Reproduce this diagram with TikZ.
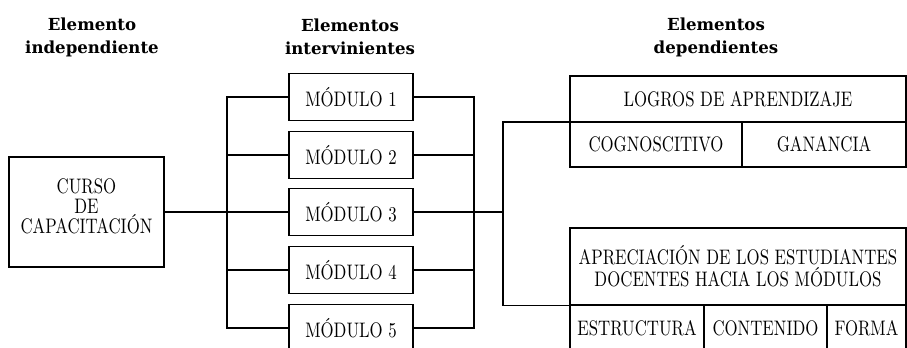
\documentclass[tikz,border=0pt]{standalone}
\usepackage{fontspec}
\newfontfamily\titlefont{DejaVu Serif}
\newfontfamily\bodyfont{Latin Modern Roman}[FakeStretch=0.8]
\begin{document}
\begin{tikzpicture}[x=0.5pt,y=-0.5pt,
  every node/.style={inner sep=0pt,outer sep=0pt},
  box/.style={draw,line width=0.8pt,rectangle,align=center,font=\bodyfont\fontsize{10.5}{10}\selectfont},
  txt/.style={align=center,font=\bodyfont\fontsize{10.5}{10}\selectfont},
  title/.style={align=center,font=\titlefont\bfseries\fontsize{8.3}{11.5}\selectfont},
  conn/.style={line width=0.8pt}]
\useasboundingbox (0,0) rectangle (907,348);
\clip (0,0) rectangle (907,348);
% titles
\node[title] (t1) at (92,37) {Elemento\\independiente};
\node[title] (t2) at (350,37) {Elementos\\intervinientes};
\node[title] (t3) at (716,37) {Elementos\\dependientes};
% left box
\node[box,minimum width=77.5pt,minimum height=55pt] (curso) at (86.5,212) {};
\node[txt] (cursotxt) at (86.5,206) {CURSO\\DE\\CAPACITACI\'ON};
% modules
\foreach \i/\y in {1/97,2/155,3/212,4/270,5/328}{
  \node[box,minimum width=62pt,minimum height=23.5pt] (m\i) at (351,\y) {M\'ODULO \i};
}
% right boxes
\node[box,minimum width=168pt,minimum height=23pt] (logros) at (738,99) {LOGROS DE APRENDIZAJE};
\node[box,minimum width=86pt,minimum height=22.5pt] (cog) at (656,144.5) {COGNOSCITIVO};
\node[box,minimum width=82pt,minimum height=22.5pt] (gan) at (824,144.5) {GANANCIA};
\node[box,minimum width=168pt,minimum height=38.5pt,font=\bodyfont\fontsize{10.5}{11}\selectfont] (apre) at (738,266.5) {APRECIACI\'ON DE LOS ESTUDIANTES\\DOCENTES HACIA LOS M\'ODULOS};
\node[box,minimum width=67pt,minimum height=23pt] (estr) at (637,328.5) {ESTRUCTURA};
\node[box,minimum width=61.5pt,minimum height=23pt] (cont) at (765.5,328.5) {CONTENIDO};
\node[box,minimum width=39.5pt,minimum height=23pt] (forma) at (866.5,328.5) {FORMA};
% bus coordinates
\coordinate (lb) at (227,0);
\coordinate (rb) at (474,0);
\coordinate (db) at (503,0);
% connectors
\draw[conn] (curso.east) -- (m3.west);
\draw[conn] (m1.west) -- (m1.west -| lb) -- (m5.west -| lb) -- (m5.west);
\draw[conn] (m2.west) -- (m2.west -| lb);
\draw[conn] (m4.west) -- (m4.west -| lb);
\draw[conn] (m1.east) -- (m1.east -| rb) -- (m5.east -| rb) -- (m5.east);
\draw[conn] (m2.east) -- (m2.east -| rb);
\draw[conn] (m4.east) -- (m4.east -| rb);
\draw[conn] (m3.east) -- (m3.east -| db);
\draw[conn] (cog.north west) -- (cog.north west -| db) -- (estr.north west -| db) -- (estr.north west);
\end{tikzpicture}
\end{document}
